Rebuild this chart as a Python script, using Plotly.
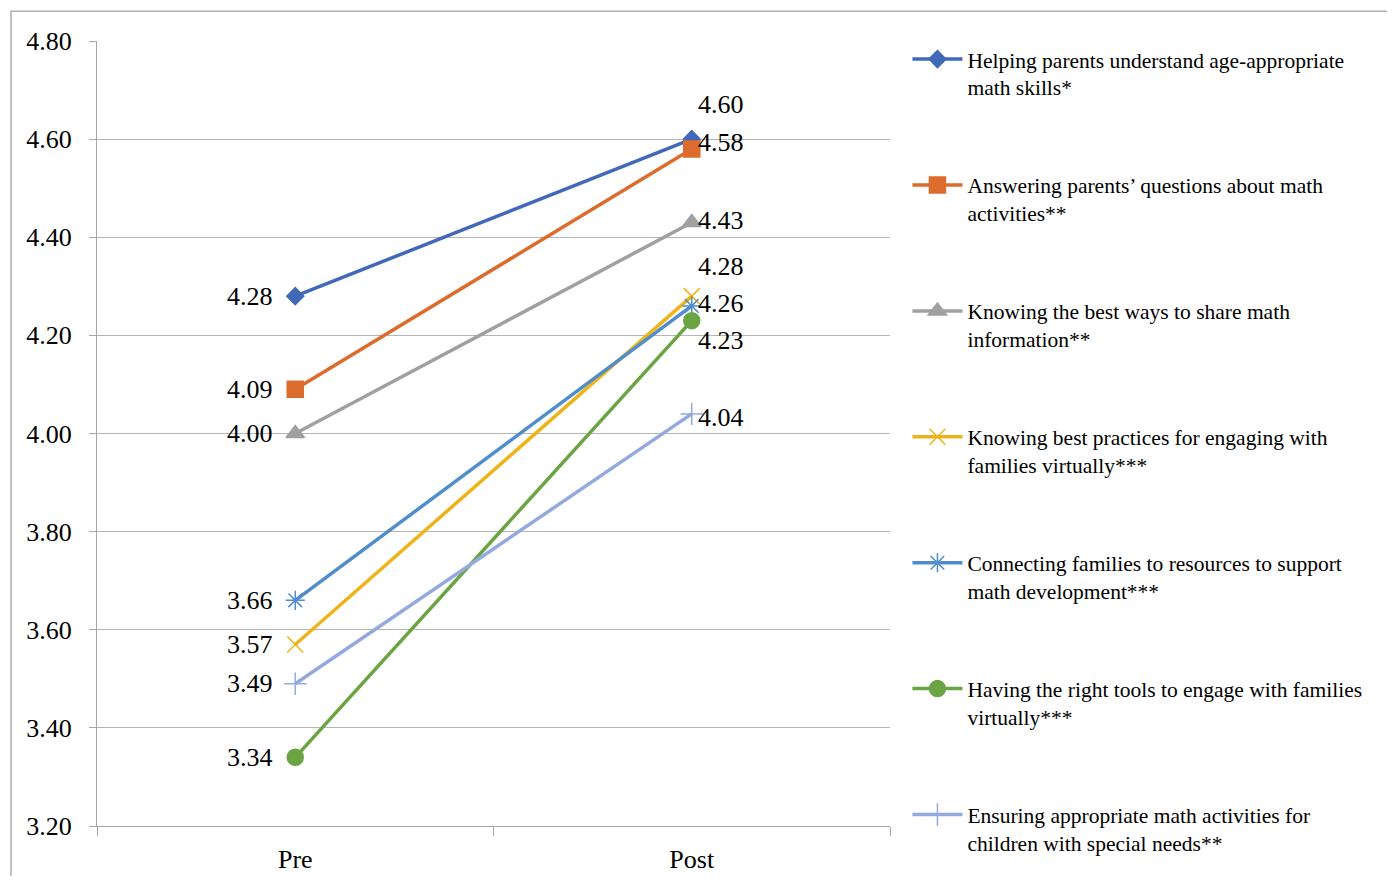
import plotly.graph_objects as go

categories = ["Pre", "Post"]
series_names = [
    "Helping parents understand age-appropriate<br>math skills*",
    "Answering parents’ questions about math<br>activities**",
    "Knowing the best ways to share math<br>information**",
    "Knowing best practices for engaging with<br>families virtually***",
    "Connecting families to resources to support<br>math development***",
    "Having the right tools to engage with families<br>virtually***",
    "Ensuring appropriate math activities for<br>children with special needs**",
]
pre_values = [4.28, 4.09, 4.00, 3.57, 3.66, 3.34, 3.49]
post_values = [4.60, 4.58, 4.43, 4.28, 4.26, 4.23, 4.04]
y_ticks = [3.20, 3.40, 3.60, 3.80, 4.00, 4.20, 4.40, 4.60, 4.80]

# styles
colors = ["#4169B8", "#DB6C2E", "#A0A0A0", "#EDB41A", "#4F8DCC", "#6AA443", "#94AADF"]
symbols = ["diamond", "square", "triangle-up", "x-thin-open", "asterisk-open", "circle", "cross-thin-open"]
msizes = [13, 16, 16, 16, 16, 16, 16]
post_label_yshift = [35, 6, 2, 30, 2, -20, -4]

FONT = "Liberation Serif, Times New Roman, serif"

fig = go.Figure()
for i, name in enumerate(series_names):
    fig.add_trace(go.Scatter(
        x=categories, y=[pre_values[i], post_values[i]],
        mode="lines+markers", name=name, legendgroup=f"g{i}",
        line=dict(color=colors[i], width=3.5),
        marker=dict(symbol=symbols[i], size=msizes[i], color=colors[i],
                    line=dict(color=colors[i], width=1.5)),
    ))

annotations = []
for i in range(len(series_names)):
    annotations.append(dict(x=categories[0], y=pre_values[i], text=f"{pre_values[i]:.2f}",
                            showarrow=False, xanchor="right", yanchor="middle", xshift=-20,
                            font=dict(family=FONT, size=26, color="#000")))
    annotations.append(dict(x=categories[1], y=post_values[i], text=f"{post_values[i]:.2f}",
                            showarrow=False, xanchor="left", yanchor="middle", xshift=4,
                            yshift=post_label_yshift[i],
                            font=dict(family=FONT, size=26, color="#000")))

fig.update_layout(
    width=1379, height=868,
    margin=dict(l=89, r=497, t=33, b=50, autoexpand=False),
    paper_bgcolor="white", plot_bgcolor="white",
    font=dict(family=FONT, color="#000"),
    showlegend=True,
    legend=dict(x=1.022, xanchor="left", y=1.003, yanchor="top",
                font=dict(family=FONT, size=21.5, color="#000"),
                tracegroupgap=67, valign="top", bgcolor="rgba(0,0,0,0)",
                itemwidth=50, maxheight=900),
    annotations=annotations,
    shapes=[dict(type="rect", xref="paper", yref="paper",
                 x0=-0.1084, x1=1.628, y0=-0.1, y1=1.038,
                 line=dict(color="#B0B0B0", width=1.5), fillcolor="rgba(0,0,0,0)", layer="below")],
)
fig.update_xaxes(
    type="category", range=[-0.5, 1.5], tickson="boundaries",
    showline=True, linecolor="#A6A6A6", linewidth=1.3,
    ticks="outside", ticklen=9, tickcolor="#A6A6A6", tickwidth=1.3,
    showgrid=False, tickfont=dict(family=FONT, size=26, color="#000"),
    ticklabelstandoff=10,
)
fig.update_yaxes(
    range=[3.20, 4.80], tickvals=y_ticks, ticktext=[f"{v:.2f}" for v in y_ticks],
    showline=True, linecolor="#A6A6A6", linewidth=1.3,
    ticks="outside", ticklen=7, tickcolor="#A6A6A6", tickwidth=1.3,
    showgrid=True, gridcolor="#B5B5B5", gridwidth=1.3, zeroline=False,
    tickfont=dict(family=FONT, size=26, color="#000"), ticklabelstandoff=12,
)

fig.write_html("out.html")
